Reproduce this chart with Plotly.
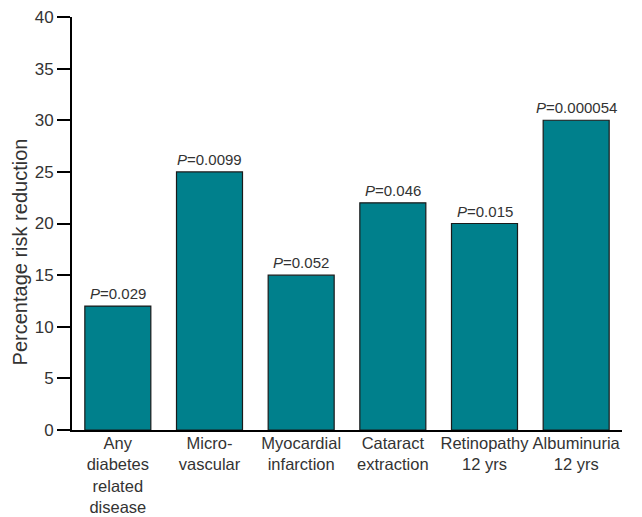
import plotly.graph_objects as go

categories = ["Any<br>diabetes<br>related<br>disease", "Micro-<br>vascular", "Myocardial<br>infarction",
              "Cataract<br>extraction", "Retinopathy<br>12 yrs", "Albuminuria<br>12 yrs"]
risk_reduction = [12, 25, 15, 22, 20, 30]
p_values = ["0.029", "0.0099", "0.052", "0.046", "0.015", "0.000054"]
y_ticks = [0, 5, 10, 15, 20, 25, 30, 35, 40]

font_family = "Liberation Sans, Arial, sans-serif"
text_color = "#333333"
x_pos = list(range(len(categories)))

fig = go.Figure(go.Bar(
    x=x_pos,
    y=risk_reduction,
    marker=dict(color="#00808C", line=dict(color="#1a1a1a", width=1.2)),
    width=0.72,
))

for xi, yi, p in zip(x_pos, risk_reduction, p_values):
    fig.add_annotation(
        x=xi, y=yi, xref="x", yref="y",
        text="<i>P</i>=" + p, showarrow=False,
        yanchor="bottom", xanchor="center", yshift=2,
        font=dict(family=font_family, size=15, color=text_color),
    )

fig.add_annotation(
    xref="paper", yref="paper", x=0, y=0.43,
    xanchor="center", yanchor="middle", xshift=-52,
    text="Percentage risk reduction", textangle=-90, showarrow=False,
    font=dict(family=font_family, size=20, color=text_color),
)

fig.update_layout(
    width=642, height=517,
    margin=dict(l=64, r=28, t=9, b=95),
    plot_bgcolor="white", paper_bgcolor="white",
    showlegend=False,
    font=dict(family=font_family, color=text_color),
    xaxis=dict(
        range=[-0.5, 5.5],
        tickmode="array",
        tickvals=x_pos,
        ticktext=categories,
        tickangle=0,
        ticklabelstandoff=-3,
        showline=True, linecolor="black", linewidth=2,
        ticks="", showgrid=False, zeroline=False,
        tickfont=dict(size=16.5, color=text_color),
        automargin=False,
    ),
    yaxis=dict(
        range=[0, 40.001],
        tickmode="array",
        tickvals=y_ticks,
        ticklabeloverflow="allow",
        showline=True, linecolor="black", linewidth=2,
        ticks="outside", ticklen=13, tickwidth=2, tickcolor="black",
        showgrid=False, zeroline=False,
        tickfont=dict(size=17, color=text_color),
        automargin=False,
    ),
)

fig.write_html("out.html")
